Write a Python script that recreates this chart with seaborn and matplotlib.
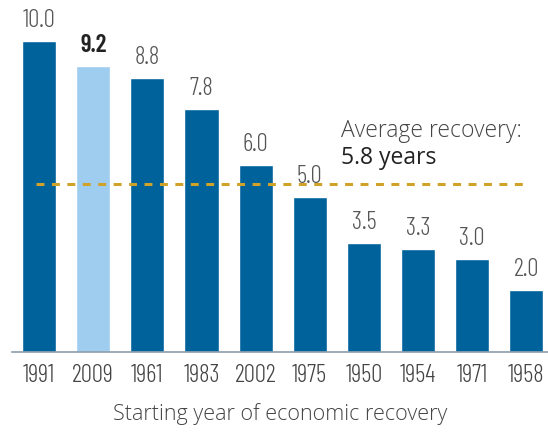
import matplotlib
matplotlib.use("Agg")
import matplotlib.pyplot as plt
import matplotlib.font_manager as fm
import seaborn as sns
import pandas as pd

years = ["1991", "2009", "1961", "1983", "2002", "1975", "1950", "1954", "1971", "1958"]
recovery = [10.0, 9.2, 8.8, 7.8, 6.0, 5.0, 3.5, 3.3, 3.0, 2.0]
highlight = "2009"
avg_value = 5.8
avg_line_level = 5.4  # where the dashed line sits in the picture

names = {f.name for f in fm.fontManager.ttflist}
num_font = "Barlow Condensed" if "Barlow Condensed" in names else "DejaVu Sans"

df = pd.DataFrame({"year": years, "recovery": recovery})
dark = "#00629B"
light = "#9FCDEF"
palette = {y: (light if y == highlight else dark) for y in years}

sns.set_style("white")
fig = plt.figure(figsize=(5.48, 4.37), dpi=100)
ax = fig.add_axes([12 / 548, 85 / 437, 536 / 548, 352 / 437])
sns.barplot(data=df, x="year", y="recovery", hue="year", palette=palette,
            width=0.63, legend=False, ax=ax, saturation=1)

ax.set_xlim(-0.5, 9.4)
ax.set_ylim(0, 11.32)
for s in ["top", "right", "left"]:
    ax.spines[s].set_visible(False)
ax.spines["bottom"].set_color("#8C9DAA")
ax.spines["bottom"].set_linewidth(1.2)
ax.set_yticks([])
ax.set_ylabel("")
ax.tick_params(axis="x", length=0, pad=9)
for lab in ax.get_xticklabels():
    lab.set_fontfamily(num_font)
    lab.set_fontsize(18)
    lab.set_fontweight(300)
    lab.set_color("#444444")

for i, (y, v) in enumerate(zip(years, recovery)):
    bold = y == highlight
    ax.text(i, v + 0.45, f"{v:.1f}", ha="center", va="baseline", fontsize=18,
            family=num_font, color="#222222" if bold else "#555555",
            fontweight=600 if bold else 300)

ax.axhline(avg_line_level, xmin=24 / 536, xmax=515 / 536,
           color="#CFA32A", linestyle=(0, (2.6, 2.45)), linewidth=2.2)
ax.text(5.58, 6.91, "Average recovery:", fontsize=16.5, family="Open Sans",
        color="#444444", fontweight="light", va="baseline")
ax.text(5.58, 6.05, f"{avg_value} years", fontsize=16.5, family="Open Sans",
        color="#222222", fontweight=500, va="baseline")

ax.set_xlabel("Starting year of economic recovery", fontsize=15.5, family="Open Sans",
              color="#444444", fontweight="light", labelpad=11)

fig.savefig("out.png", dpi=100)
